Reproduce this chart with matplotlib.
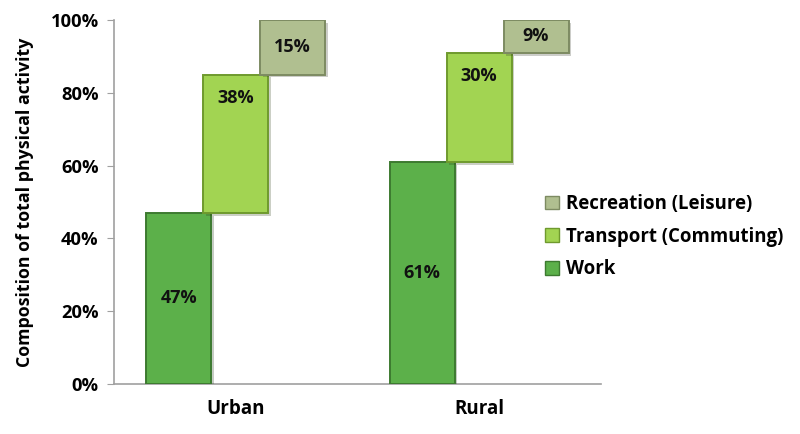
import matplotlib
matplotlib.use("Agg")
import matplotlib.pyplot as plt
import matplotlib.patheffects as pe
from matplotlib.patches import Patch
import numpy as np

categories = ["Urban", "Rural"]
series = ["Work", "Transport (Commuting)", "Recreation (Leisure)"]
work = [47, 61]
transport = [38, 30]
recreation = [15, 9]
yticks = [0, 20, 40, 60, 80, 100]
ytick_labels = ["0%", "20%", "40%", "60%", "80%", "100%"]

face = ["#5cb04a", "#a2d452", "#b0bf90"]
edge = ["#3d7a30", "#6f9a2e", "#7d8b62"]

plt.rcParams['font.family'] = ['Open Sans', 'DejaVu Sans']
fig = plt.figure(figsize=(8, 4.34), dpi=100)
ax = fig.add_axes([0.1425, 0.1152, 0.751 - 0.1425, 0.9539 - 0.1152])

x = np.arange(len(categories))
width = 0.267
offset = 0.234
values = [work, transport, recreation]
bottoms = [np.zeros(2), np.array(work, float), np.array(work, float) + np.array(transport)]
shadow = [pe.SimplePatchShadow(offset=(2, -2), alpha=0.25), pe.Normal()]
for i, (vals, bot) in enumerate(zip(values, bottoms)):
    bars = ax.bar(x + (i - 1) * offset, vals, width, bottom=bot, color=face[i],
                  edgecolor=edge[i], linewidth=1.4, zorder=3 + i)
    for b in bars:
        b.set_path_effects(shadow)
    for xi, v, b0 in zip(x + (i - 1) * offset, vals, bot):
        if i == 1:
            ty = b0 + v - 6.5
        else:
            ty = b0 + v / 2
        ax.text(xi, ty, f"{v}%", ha="center", va="center", fontsize=13,
                fontweight="bold", color="#111111", zorder=10)

ax.set_xlim(-0.5, 1.5)
ax.set_ylim(0, 100)
ax.set_xticks(x)
ax.set_xticklabels(categories, fontsize=13.5, fontweight="bold")
ax.set_yticks(yticks)
ax.set_yticklabels(ytick_labels, fontsize=13.2, fontweight="bold")
ax.tick_params(axis="x", length=0, pad=11)
ax.tick_params(axis="y", length=5, color="#a0a0a0", pad=6)
for s in ["top", "right"]:
    ax.spines[s].set_visible(False)
for s in ["left", "bottom"]:
    ax.spines[s].set_color("#a0a0a0")
    ax.spines[s].set_linewidth(1.2)
ax.set_ylabel("Composition of total physical activity", fontsize=12.8,
              fontweight="bold", labelpad=12)

handles = [Patch(facecolor=face[i], edgecolor=edge[i], label=series[i]) for i in [2, 1, 0]]
leg = fig.legend(handles=handles, loc="center left", bbox_to_anchor=(0.66, 0.455),
                 frameon=False, prop={"size": 13.4, "weight": "bold"},
                 handlelength=0.75, handleheight=0.75, handletextpad=0.4, labelspacing=0.68)

fig.savefig("out.png", dpi=100)
